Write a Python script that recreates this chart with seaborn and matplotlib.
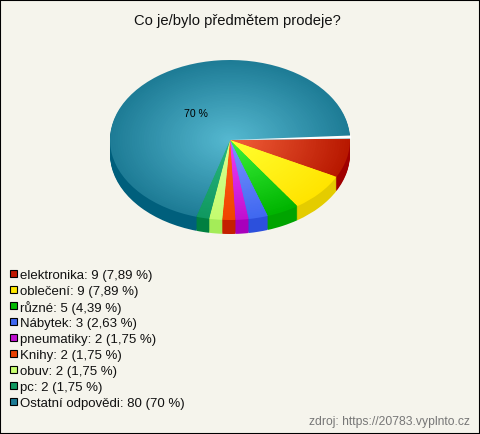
# -*- coding: utf-8 -*-
import matplotlib
matplotlib.use("Agg")
import matplotlib.pyplot as plt
from matplotlib.patches import Rectangle, Wedge
import seaborn as sns

kategorie = ["elektronika", "oblečení", "různé", "Nábytek", "pneumatiky",
             "Knihy", "obuv", "pc", "Ostatní odpovědi"]
hodnoty = [9, 9, 5, 3, 2, 2, 2, 2, 80]
procenta = ["7,89", "7,89", "4,39", "2,63", "1,75", "1,75", "1,75", "1,75", "70"]

barvy_stred = ["#f2603a", "#ffff30", "#3cf23c", "#7a94ff", "#f040f5",
               "#ff6414", "#d8ff90", "#28b880", "#55b8d0"]
barvy_okraj = ["#b81800", "#ffe400", "#00b400", "#4068f0", "#c010d0",
               "#f04400", "#c4fc70", "#109860", "#1e7c96"]
barvy_bok = ["#a00000", "#e4cc00", "#00a400", "#2c50dc", "#a800bc",
             "#c42000", "#a4ec58", "#008040", "#005f7c"]
barvy_legenda = ["#c01800", "#ffe800", "#00b800", "#4068f0", "#c010d0",
                 "#e84000", "#c8ff70", "#109860", "#1e7c96"]

SIRKA, VYSKA = 480, 434
CX, CY, RX, RY = 230, 140, 120, 80
HLOUBKA = 14
POZADI = "#f5f4ec"
START = 1

sns.set_theme(style="white", font="Liberation Sans")

fig = plt.figure(figsize=(SIRKA / 100, VYSKA / 100), dpi=100, facecolor=POZADI)
ax = fig.add_axes([0, 0, 1, 1])
ax.set_facecolor(POZADI)


def kolac(barvy, polomer=1.0, posun=0.0):
    ax.pie(hodnoty, colors=barvy, radius=polomer, center=(0, posun), startangle=START,
           counterclock=False, frame=True, wedgeprops={"linewidth": 0})


# bok kolace
for krok in range(HLOUBKA, 0, -1):
    kolac(barvy_bok, posun=-krok / RY)

# horni plocha s radialnim prechodem
KROKY = 50
prechody = [sns.blend_palette([s, o], KROKY) for s, o in zip(barvy_stred, barvy_okraj)]
for i in range(KROKY - 1, -1, -1):
    kolac([p[i] for p in prechody], polomer=(i + 1) / KROKY)

# bila mezera mezi poslednim a prvnim dilem
ax.add_patch(Wedge((0, 0), 1.01, START, START + 2.2, facecolor="#ffffff", linewidth=0))

ax.set_aspect("auto")
ax.set_xlim(-CX / RX, (SIRKA - CX) / RX)
ax.set_ylim(-(VYSKA - CY) / RY, CY / RY)
ax.set_xticks([])
ax.set_yticks([])
for s in ax.spines.values():
    s.set_visible(True)
    s.set_color("black")
    s.set_linewidth(1.5)


def px(x, y):
    return x / SIRKA, 1 - y / VYSKA


fig.text(*px(237, 21), "Co je/bylo předmětem prodeje?", ha="center", va="center",
         fontsize=10.6, color="#111111")
fig.text(*px(196, 114), "70 %", ha="center", va="center", fontsize=7.6, color="black")

for i, (nazev, h, p) in enumerate(zip(kategorie, hodnoty, procenta)):
    y = 274 + i * 16
    fig.add_artist(Rectangle((9.5 / SIRKA, 1 - (y + 3) / VYSKA), 7 / SIRKA, 7 / VYSKA,
                             transform=fig.transFigure, facecolor=barvy_legenda[i],
                             edgecolor="black", linewidth=0.8))
    fig.text(*px(20, y + 2), f"{nazev}: {h} ({p} %)", ha="left", va="center",
             fontsize=9.5, color="#111111")

fig.text(*px(470, 422), "zdroj: https://20783.vyplnto.cz", ha="right", va="center",
         fontsize=8.75, color="#777777")

fig.savefig("out.png", dpi=100, facecolor=POZADI)
